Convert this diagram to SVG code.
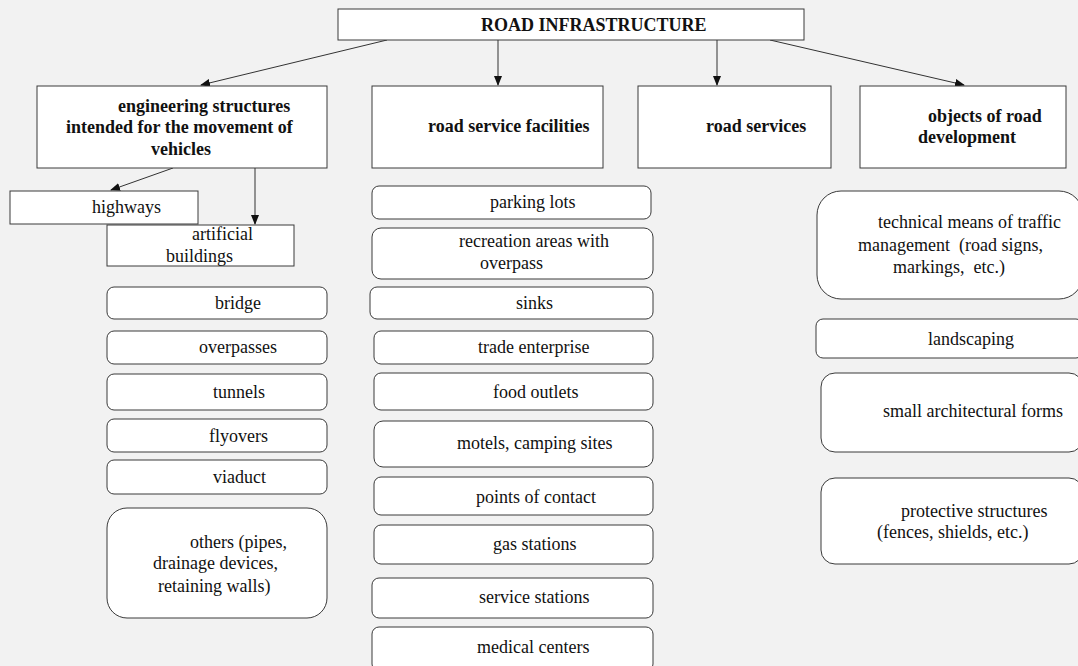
<svg xmlns="http://www.w3.org/2000/svg" width="1078" height="666" viewBox="0 0 1078 666">
  <style>
    .box { fill: #ffffff; stroke: #3a3a3a; stroke-width: 1; }
    .t { font-family: "Liberation Serif", "Times New Roman", serif; font-size: 18px; fill: #111111; white-space: pre; }
    .b { font-weight: bold; }
    .link { stroke: #333333; stroke-width: 1; fill: none; marker-end: url(#arrow); }
  </style>
  <defs>
    <marker id="arrow" markerWidth="10" markerHeight="8" refX="9" refY="4" orient="auto" markerUnits="userSpaceOnUse">
      <path d="M0,0 L10,4 L0,8 Z" fill="#111111"/>
    </marker>
  </defs>
  <rect width="1078" height="666" fill="#f2f2f2"/>

  <!-- connectors -->
  <g id="connectors">
    <line class="link" x1="387" y1="40" x2="201" y2="85"/>
    <line class="link" x1="498" y1="40" x2="498" y2="85"/>
    <line class="link" x1="717" y1="40" x2="717" y2="85"/>
    <line class="link" x1="770" y1="40" x2="964" y2="85"/>
    <line class="link" x1="173" y1="168" x2="111" y2="190"/>
    <line class="link" x1="255" y1="168" x2="255" y2="224"/>
  </g>

  <!-- root -->
  <g id="root">
    <rect class="box" x="338" y="9" width="466" height="31"/>
    <text class="t b" x="481" y="31">ROAD INFRASTRUCTURE</text>
  </g>

  <!-- second level -->
  <g id="engineering">
    <rect class="box" x="37" y="86" width="290" height="82"/>
    <text class="t b" x="118" y="112">engineering structures</text>
    <text class="t b" x="66" y="133">intended for the movement of</text>
    <text class="t b" x="151" y="155">vehicles</text>
  </g>
  <g id="service-facilities">
    <rect class="box" x="372" y="86" width="231" height="82"/>
    <text class="t b" x="428" y="132">road service facilities</text>
  </g>
  <g id="road-services">
    <rect class="box" x="638" y="86" width="193" height="82"/>
    <text class="t b" x="706" y="132">road services</text>
  </g>
  <g id="development">
    <rect class="box" x="860" y="86" width="206" height="82"/>
    <text class="t b" x="928" y="122">objects of road</text>
    <text class="t b" x="918" y="143">development</text>
  </g>

  <!-- engineering structures branch -->
  <g id="artificial">
    <rect class="box" x="107" y="225" width="187" height="41"/>
    <text class="t" x="192" y="240">artificial</text>
    <text class="t" x="166" y="262">buildings</text>
  </g>
  <g id="highways">
    <rect class="box" x="10" y="191" width="188" height="33"/>
    <text class="t" x="92" y="213">highways</text>
  </g>
  <g id="bridge">
    <rect class="box" x="107" y="287" width="220" height="32" rx="7"/>
    <text class="t" x="215" y="309">bridge</text>
  </g>
  <g id="overpasses">
    <rect class="box" x="107" y="331" width="220" height="33" rx="7"/>
    <text class="t" x="199" y="353">overpasses</text>
  </g>
  <g id="tunnels">
    <rect class="box" x="107" y="374" width="220" height="36" rx="7"/>
    <text class="t" x="213" y="398">tunnels</text>
  </g>
  <g id="flyovers">
    <rect class="box" x="107" y="419" width="220" height="33" rx="7"/>
    <text class="t" x="209" y="442">flyovers</text>
  </g>
  <g id="viaduct">
    <rect class="box" x="107" y="460" width="220" height="34" rx="7"/>
    <text class="t" x="213" y="483">viaduct</text>
  </g>
  <g id="others">
    <rect class="box" x="107" y="508" width="220" height="110" rx="20"/>
    <text class="t" x="190" y="548">others (pipes,</text>
    <text class="t" x="153" y="569">drainage devices,</text>
    <text class="t" x="158" y="592">retaining walls)</text>
  </g>

  <!-- road service facilities branch -->
  <g id="parking">
    <rect class="box" x="372" y="186" width="279" height="33" rx="7"/>
    <text class="t" x="490" y="208">parking lots</text>
  </g>
  <g id="recreation">
    <rect class="box" x="372" y="228" width="281" height="51" rx="9"/>
    <text class="t" x="459" y="247">recreation areas with</text>
    <text class="t" x="480" y="269">overpass</text>
  </g>
  <g id="sinks">
    <rect class="box" x="370" y="287" width="283" height="32" rx="7"/>
    <text class="t" x="516" y="309">sinks</text>
  </g>
  <g id="trade">
    <rect class="box" x="374" y="331" width="279" height="33" rx="7"/>
    <text class="t" x="478" y="353">trade enterprise</text>
  </g>
  <g id="food">
    <rect class="box" x="374" y="373" width="279" height="37" rx="7"/>
    <text class="t" x="493" y="398">food outlets</text>
  </g>
  <g id="motels">
    <rect class="box" x="374" y="421" width="279" height="46" rx="9"/>
    <text class="t" x="457" y="449">motels, camping sites</text>
  </g>
  <g id="contact">
    <rect class="box" x="374" y="477" width="279" height="38" rx="7"/>
    <text class="t" x="476" y="503">points of contact</text>
  </g>
  <g id="gas">
    <rect class="box" x="374" y="525" width="279" height="39" rx="7"/>
    <text class="t" x="493" y="550">gas stations</text>
  </g>
  <g id="service-stations">
    <rect class="box" x="372" y="578" width="281" height="40" rx="7"/>
    <text class="t" x="479" y="603">service stations</text>
  </g>
  <g id="medical">
    <rect class="box" x="372" y="627" width="281" height="44" rx="7"/>
    <text class="t" x="477" y="653">medical centers</text>
  </g>

  <!-- road development branch -->
  <g id="traffic">
    <rect class="box" x="817" y="191" width="266" height="108" rx="24"/>
    <text class="t" x="878" y="228">technical means of traffic</text>
    <text class="t" x="858" y="251">management  (road signs,</text>
    <text class="t" x="893" y="273">markings,  etc.)</text>
  </g>
  <g id="landscaping">
    <rect class="box" x="816" y="319" width="267" height="39" rx="7"/>
    <text class="t" x="928" y="345">landscaping</text>
  </g>
  <g id="small-forms">
    <rect class="box" x="821" y="373" width="262" height="79" rx="14"/>
    <text class="t" x="883" y="417">small architectural forms</text>
  </g>
  <g id="protective">
    <rect class="box" x="821" y="478" width="262" height="86" rx="14"/>
    <text class="t" x="901" y="517">protective structures</text>
    <text class="t" x="877" y="538">(fences, shields, etc.)</text>
  </g>
</svg>
